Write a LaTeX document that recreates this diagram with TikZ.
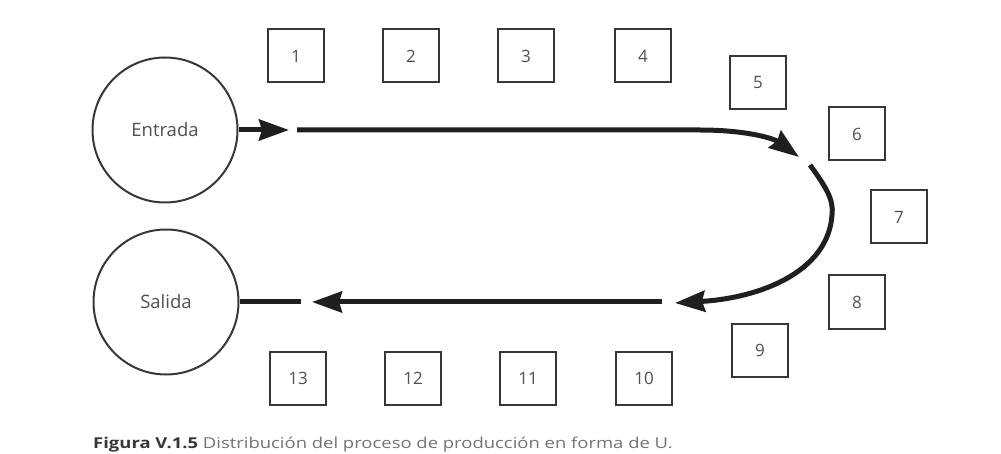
\documentclass[tikz,border=0pt]{standalone}
\usepackage{fontspec}
\setmainfont{Open Sans}
\usetikzlibrary{arrows.meta}
\definecolor{inkgray}{RGB}{55,55,55}
\definecolor{textgray}{RGB}{80,80,80}
\definecolor{capgray}{RGB}{115,115,115}
\tikzset{
  station/.style={draw=inkgray, line width=2pt, minimum width=56pt, minimum height=53pt,
    inner sep=0pt, text=textgray, font=\fontsize{17}{20}\selectfont},
  endpoint/.style={draw=inkgray, line width=2pt, circle, minimum size=145pt, inner sep=0pt,
    text=textgray, font=\fontsize{18.5}{22}\selectfont},
  flow/.style={line width=5pt, black!88, -{Stealth[length=30pt,width=21pt,inset=3pt]}},
  plain/.style={line width=5pt, black!88},
}
\begin{document}
\begin{tikzpicture}[x=1pt,y=-1pt]
\useasboundingbox (0,0) rectangle (1001,454);
% entry and exit
\node[endpoint] (in)  at (165,130) {Entrada};
\node[endpoint] (out) at (166,302) {Salida};
% work stations around the U
\node[station] (s1)  at (296,56)  {1};
\node[station] (s2)  at (411,56)  {2};
\node[station] (s3)  at (526,56)  {3};
\node[station] (s4)  at (643,56)  {4};
\node[station] (s5)  at (758,83)  {5};
\node[station] (s6)  at (857,134) {6};
\node[station] (s7)  at (899,217) {7};
\node[station] (s8)  at (857,302) {8};
\node[station] (s9)  at (760,350) {9};
\node[station] (s10) at (644,378) {10};
\node[station] (s11) at (528,378) {11};
\node[station] (s12) at (413,378) {12};
\node[station] (s13) at (298,378) {13};
% flow path points
\coordinate (a1) at (289,130);
\coordinate (b0) at (297,130);
\coordinate (b1) at (700,130);
\coordinate (b2) at (799,157);
\coordinate (c0) at (810,165);
\coordinate (c1) at (832,215);
\coordinate (c2) at (675,303);
\coordinate (d0) at (662,302);
\coordinate (d1) at (312,302);
\coordinate (e0) at (301,302);
% flow arrows
\draw[flow] (in.east) -- (a1);
\draw[flow] (b0) -- (b1) .. controls (745,130) and (773,138) .. (b2);
\draw[flow] (c0) .. controls (826,187) and (834,200) .. (c1)
            .. controls (828,272) and (760,298) .. (c2);
\draw[flow] (d0) -- (d1);
\draw[plain] (e0) -- (out.east);
% caption
\node[anchor=base west, inner sep=0pt, font=\fontsize{15}{18}\selectfont] (cap) at (93,448)
  {\scalebox{1.23}[1]{\textcolor{inkgray}{\textbf{Figura V.1.5}} \textcolor{capgray}{Distribución del proceso de producción en forma de U.}}};
\end{tikzpicture}
\end{document}
